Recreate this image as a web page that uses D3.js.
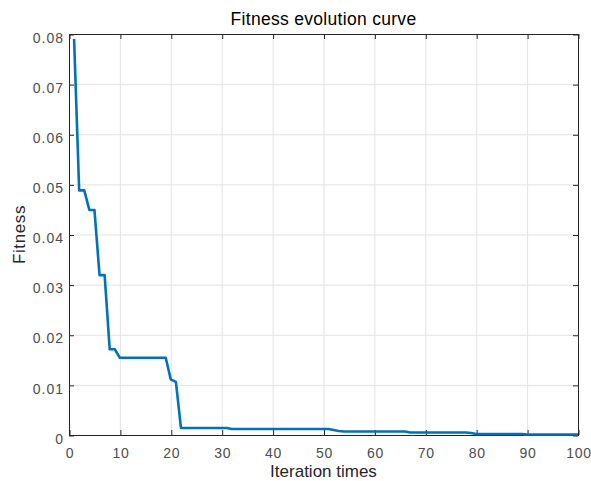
<!DOCTYPE html>
<html>
<head>
<meta charset="utf-8">
<script src="https://cdn.jsdelivr.net/npm/d3@7"></script>
<style>
body { margin: 0; background: #fff; overflow: hidden; }
text { font-family: "Liberation Sans", Arial, sans-serif; }
</style>
</head>
<body>
<script>
// fitness per iteration
let iterations = d3.range(1, 101);
let fitness = [
  0.0790, 0.0488, 0.0488, 0.0449, 0.0449, 0.0319, 0.0319, 0.0171, 0.0171, 0.0154,
  0.0154, 0.0154, 0.0154, 0.0154, 0.0154, 0.0154, 0.0154, 0.0154, 0.0154, 0.0111,
  0.0106, 0.0014, 0.0014, 0.0014, 0.0014, 0.0014, 0.0014, 0.0014, 0.0014, 0.0014,
  0.0014, 0.0012, 0.0012, 0.0012, 0.0012, 0.0012, 0.0012, 0.0012, 0.0012, 0.0012,
  0.0012, 0.0012, 0.0012, 0.0012, 0.0012, 0.0012, 0.0012, 0.0012, 0.0012, 0.0012,
  0.0012, 0.0010, 0.0008, 0.0007, 0.0007, 0.0007, 0.0007, 0.0007, 0.0007, 0.0007,
  0.0007, 0.0007, 0.0007, 0.0007, 0.0007, 0.0007, 0.0005, 0.0005, 0.0005, 0.0005,
  0.0005, 0.0005, 0.0005, 0.0005, 0.0005, 0.0005, 0.0005, 0.0005, 0.0004, 0.0002,
  0.0002, 0.0002, 0.0002, 0.0002, 0.0002, 0.0002, 0.0002, 0.0002, 0.0002, 0.0001,
  0.0001, 0.0001, 0.0001, 0.0001, 0.0001, 0.0001, 0.0001, 0.0001, 0.0001, 0.0001
];
let xTicks = [0, 10, 20, 30, 40, 50, 60, 70, 80, 90, 100];
let yTicks = [0, 0.01, 0.02, 0.03, 0.04, 0.05, 0.06, 0.07, 0.08];

let W = 591, H = 481;
let pLeft = 69, pTop = 34, pRight = 578, pBottom = 435;

let svg = d3.select("body").append("svg")
  .attr("width", W).attr("height", H);

let x = d3.scaleLinear().domain([0, 100]).range([pLeft, pRight]);
let y = d3.scaleLinear().domain([0, 0.08]).range([pBottom, pTop]);

// grid
let grid = svg.append("g").attr("stroke", "#e3e3e3").attr("stroke-width", 1);
grid.selectAll("line.gx").data(xTicks).enter().append("line")
  .attr("x1", d => x(d) + 0.5).attr("x2", d => x(d) + 0.5)
  .attr("y1", pTop).attr("y2", pBottom);
grid.selectAll("line.gy").data(yTicks).enter().append("line")
  .attr("x1", pLeft).attr("x2", pRight)
  .attr("y1", d => y(d) + 0.5).attr("y2", d => y(d) + 0.5);

// axes, ticks inward on all four sides
let axisColor = "#262626";
let styleAxis = (g, spacing) => {
  g.select(".domain").remove();
  g.selectAll(".tick line").attr("stroke", axisColor);
  g.selectAll(".tick text").attr("fill", "#4d4d4d")
    .style("font-size", "14px").style("letter-spacing", spacing + "px");
};
svg.append("g").attr("transform", `translate(0.5,${pBottom})`)
  .call(d3.axisBottom(x).tickValues(xTicks).tickSizeInner(-5).tickPadding(13)
    .tickFormat(d3.format("d")))
  .call(styleAxis, 0.7);
svg.append("g").attr("transform", `translate(0.5,${pTop})`)
  .call(d3.axisTop(x).tickValues(xTicks).tickSizeInner(-5).tickFormat(""))
  .call(styleAxis, 0);
svg.append("g").attr("transform", `translate(${pLeft},0.5)`)
  .call(d3.axisLeft(y).tickValues(yTicks).tickSizeInner(-5).tickPadding(5)
    .tickFormat(d => d === 0 ? "0" : d3.format(".2f")(d)))
  .call(styleAxis, 1)
  .selectAll(".tick text").attr("dy", "0.55em");
svg.append("g").attr("transform", `translate(${pRight},0.5)`)
  .call(d3.axisRight(y).tickValues(yTicks).tickSizeInner(-5).tickFormat(""))
  .call(styleAxis, 0);

svg.append("rect")
  .attr("x", pLeft + 0.5).attr("y", pTop + 0.5)
  .attr("width", pRight - pLeft).attr("height", pBottom - pTop)
  .attr("fill", "none").attr("stroke", axisColor).attr("stroke-width", 1);

// curve
let line = d3.line().x((d, i) => x(iterations[i])).y(d => y(d));
svg.append("path").datum(fitness)
  .attr("d", line)
  .attr("fill", "none")
  .attr("stroke", "#0072BD")
  .attr("stroke-width", 2.6)
  .attr("stroke-linejoin", "round");

// labels
svg.append("text").attr("x", (pLeft + pRight) / 2).attr("y", 25)
  .attr("text-anchor", "middle").style("font-size", "17.5px")
  .style("letter-spacing", "0.3px").attr("fill", "#000")
  .text("Fitness evolution curve");
svg.append("text").attr("x", (pLeft + pRight) / 2).attr("y", 476.5)
  .attr("text-anchor", "middle").style("font-size", "17px").attr("fill", "#262626")
  .text("Iteration times");
svg.append("text")
  .attr("transform", `translate(25,${(pTop + pBottom) / 2}) rotate(-90)`)
  .attr("text-anchor", "middle").style("font-size", "17px")
  .style("letter-spacing", "0.6px").attr("fill", "#262626")
  .text("Fitness");
</script>
</body>
</html>
